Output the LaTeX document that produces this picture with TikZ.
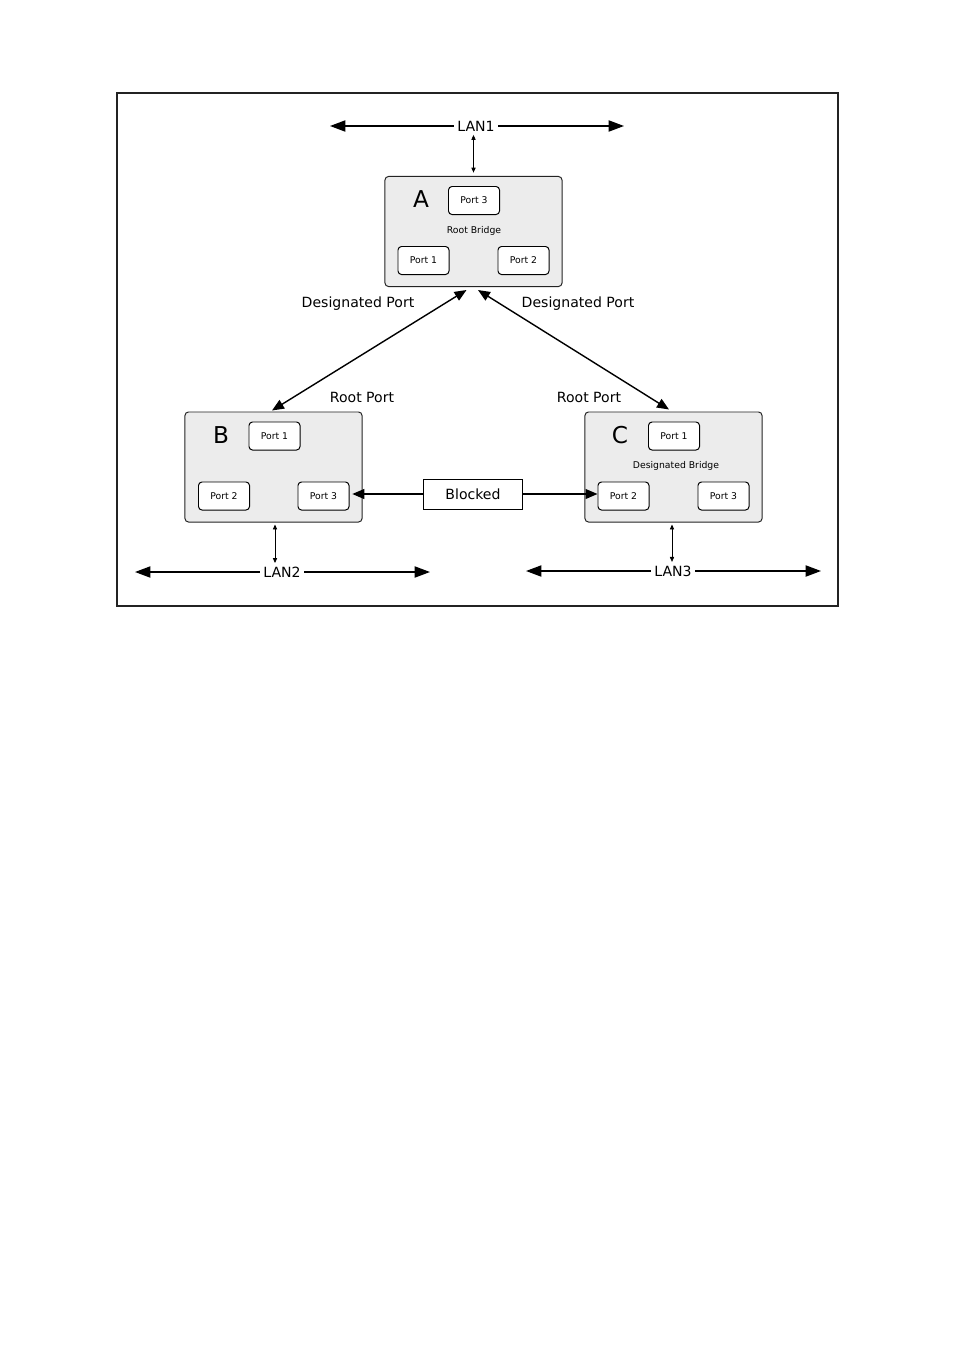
\documentclass[tikz,border=0pt]{standalone}
\usepackage{fontspec}
\setmainfont{DejaVu Sans}
\usetikzlibrary{arrows.meta,calc}
\definecolor{bridgefill}{RGB}{236,236,236}
\definecolor{edgegray}{RGB}{35,35,35}

\tikzset{
  bridge/.style={draw=edgegray, fill=bridgefill, line width=0.7pt, rounded corners=2.5pt,
    minimum width=4.425cm, minimum height=2.75cm, inner sep=0pt},
  port/.style={draw=black, fill=white, line width=0.7pt, rounded corners=2.5pt,
    minimum width=1.275cm, minimum height=0.7cm, inner sep=0pt, font=\fontsize{6.6}{8}\selectfont},
  tag/.style={font=\fontsize{10}{12}\selectfont, inner sep=1pt},
  small/.style={font=\fontsize{6.6}{8}\selectfont, inner sep=1pt},
  letter/.style={font=\fontsize{16.5}{18}\selectfont, inner sep=0pt},
  lanlabel/.style={font=\fontsize{10}{12}\selectfont, inner sep=2.5pt},
  lanarrow/.style={line width=1pt, -{Triangle[length=11pt, width=8pt]}},
  linkarrow/.style={line width=1pt, {Triangle[length=8.5pt, width=7pt]}-{Triangle[length=8.5pt, width=7pt]}},
  blockarrow/.style={line width=1pt, -{Triangle[length=8.5pt, width=7pt]}},
  tap/.style={line width=0.6pt, {Triangle[length=3.5pt, width=3pt]}-{Triangle[length=3.5pt, width=3pt]}}
}

\begin{document}
\begin{tikzpicture}[x=0.025cm, y=-0.025cm]
    \useasboundingbox (0,0) rectangle (955,1350);
    % outer frame
    \draw[edgegray, line width=0.8pt] (117,93) rectangle (838,606);

    % Bridge A
    \node[bridge] (A) at (473.5,231.5) {};
    \node[letter] (Aname) at (421,199) {A};
    \node[port] (Ap3) at (474,200.5) {Port 3};
    \node[small] (Arole) at (474,231) {Root Bridge};
    \node[port] (Ap1) at (423.5,260.5) {Port 1};
    \node[port] (Ap2) at (523.5,260.5) {Port 2};

    % Bridge B
    \node[bridge] (B) at (273.5,467) {};
    \node[letter] (Bname) at (221,435) {B};
    \node[port] (Bp1) at (274.5,436) {Port 1};
    \node[port] (Bp2) at (224,496) {Port 2};
    \node[port] (Bp3) at (323.5,496) {Port 3};

    % Bridge C
    \node[bridge] (C) at (673.5,467) {};
    \node[letter] (Cname) at (620,435) {C};
    \node[port] (Cp1) at (674,436) {Port 1};
    \node[small] (Crole) at (676,466) {Designated Bridge};
    \node[port] (Cp2) at (623.5,496) {Port 2};
    \node[port] (Cp3) at (723.5,496) {Port 3};

    % LAN segments
    \node[lanlabel] (lan1) at (476,126) {LAN1};
    \coordinate (lan1l) at (330,126);
    \coordinate (lan1r) at (624,126);
    \draw[lanarrow] (lan1.west) -- (lan1l);
    \draw[lanarrow] (lan1.east) -- (lan1r);

    \node[lanlabel] (lan2) at (282,572) {LAN2};
    \coordinate (lan2l) at (135,572);
    \coordinate (lan2r) at (430,572);
    \draw[lanarrow] (lan2.west) -- (lan2l);
    \draw[lanarrow] (lan2.east) -- (lan2r);

    \node[lanlabel] (lan3) at (673,571) {LAN3};
    \coordinate (lan3l) at (526,571);
    \coordinate (lan3r) at (821,571);
    \draw[lanarrow] (lan3.west) -- (lan3l);
    \draw[lanarrow] (lan3.east) -- (lan3r);

    % taps to the LANs
    \draw[tap, shorten <=4\pgflinewidth] (A.north) -- (A.north |- lan1.south);
    \draw[tap] ($(B.south)+(1.5,2)$) -- ($(B.south |- lan2.north)+(1.5,0)$);
    \draw[tap] ($(C.south)+(-1.5,2)$) -- ($(C.south |- lan3.north)+(-1.5,0)$);

    % links between bridges
    \draw[linkarrow] ($(A.south)+(-7,3)$) -- ($(B.north)+(-1.5,-1)$);
    \draw[linkarrow] ($(A.south)+(4.5,3)$) -- ($(C.north)+(-4.5,-2)$);
    \node[tag] (dpB) at (358,303.5) {Designated Port};
    \node[tag] (dpC) at (578,303.5) {Designated Port};
    \node[tag] (rpB) at (362,397.5) {Root Port};
    \node[tag] (rpC) at (589,397.5) {Root Port};

    % blocked link
    \node[draw, fill=white, line width=0.7pt, minimum width=2.45cm, minimum height=0.75cm,
      inner sep=0pt, font=\fontsize{10}{12}\selectfont] (blocked) at (473,494) {Blocked};
    \draw[blockarrow, shorten >=2pt] (blocked.west) -- (blocked.west -| Bp3.east);
    \draw[blockarrow] (blocked.east) -- (blocked.east -| Cp2.west);
\end{tikzpicture}
\end{document}
